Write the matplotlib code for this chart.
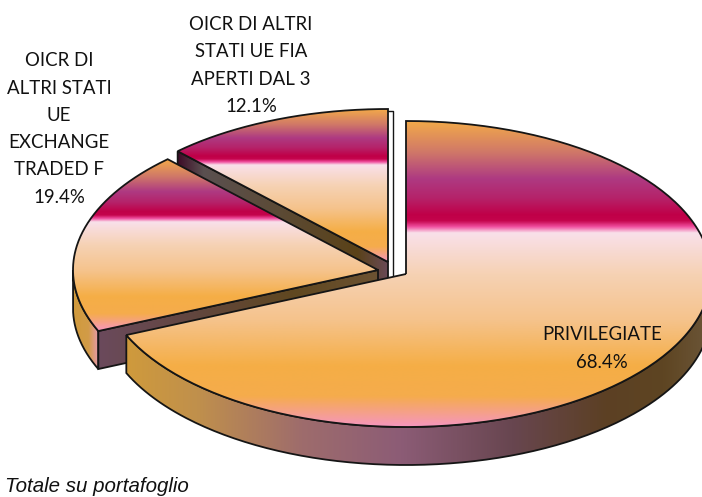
import numpy as np
import matplotlib
matplotlib.use("Agg")
import matplotlib.pyplot as plt
from matplotlib.path import Path
from matplotlib.patches import PathPatch
from matplotlib.colors import LinearSegmentedColormap

# data
categories = ["PRIVILEGIATE", "OICR DI\nALTRI STATI\nUE\nEXCHANGE\nTRADED F", "OICR DI ALTRI\nSTATI UE FIA\nAPERTI DAL 3"]
shares = [68.4, 19.4, 12.1]
footer = "Totale su portafoglio"

# layout (pixels)
W, H = 702, 497
RX, RY, DEPTH = 305, 153, 38
centers = [(406, 274), (378, 270), (388, 262)]
label_pos = [(602, 348.5), (59, 129), (251, 65.5)]

fig = plt.figure(figsize=(W / 100, H / 100), dpi=100)
ax = fig.add_axes([0, 0, 1, 1])
EDGE = "#151515"
LW = 1.3

top_cmap = LinearSegmentedColormap.from_list("top", [
    (0.00, "#F2A94A"), (0.10, "#D07868"), (0.187, "#AE3A82"), (0.25, "#B5236A"),
    (0.305, "#C00048"), (0.325, "#C4044C"), (0.345, "#F050A0"), (0.365, "#F9E0EA"),
    (0.50, "#F6D2B4"), (0.65, "#F5C38C"), (0.80, "#F5AE46"), (0.90, "#F5AC4C"), (1.00, "#F596BE")])
main_wall = LinearSegmentedColormap.from_list("mw", [
    (0.0, "#CF9A3C"), (0.12, "#C0904C"), (0.30, "#9E6C6C"), (0.47, "#8C5C76"),
    (0.66, "#684650"), (0.82, "#5C4024"), (0.92, "#5E4522"), (1.0, "#6C5638")])
side_wall = LinearSegmentedColormap.from_list("sw", [
    (0.0, "#D09A3C"), (0.6, "#D29C48"), (1.0, "#E89AB0")])
cut2_wall = LinearSegmentedColormap.from_list("c2", [
    (0.0, "#6B4A5C"), (0.35, "#62463E"), (0.7, "#604820"), (1.0, "#6C5232")])
cut3_wall = LinearSegmentedColormap.from_list("c3", [
    (0.0, "#3E0C28"), (0.12, "#5A5050"), (0.5, "#5C4A34"), (0.85, "#5A4218"), (1.0, "#6A4A58")])


def pt(c, th):
    return c[0] + RX * np.sin(th), c[1] - RY * np.cos(th)


def arc(c, a, b, n=200):
    t = np.linspace(a, b, n)
    return np.column_stack(pt(c, t))


def fill(verts, cmap, vertical, z):
    verts = np.asarray(verts)
    p = PathPatch(Path(np.vstack([verts, verts[:1]])), fc="none", ec=EDGE, lw=LW, zorder=z + 0.1, joinstyle="miter")
    ax.add_patch(p)
    x0, x1, y0, y1 = verts[:, 0].min(), verts[:, 0].max(), verts[:, 1].min(), verts[:, 1].max()
    g = np.linspace(0, 1, 512)
    img = g[:, None] if vertical else g[None, :]
    im = ax.imshow(img, cmap=cmap, extent=[x0, x1, y1, y0], aspect="auto", zorder=z, interpolation="bilinear", origin="upper")
    im.set_clip_path(p)


def wall(c, a, b, cmap, z):
    top = arc(c, a, b)
    fill(np.vstack([top, (top + [0, DEPTH])[::-1]]), cmap, False, z)


total = sum(shares)
edges = 2 * np.pi * np.concatenate([[0], np.cumsum(shares)]) / total
edges[-1] = 2 * np.pi


def top_face(i):
    c = centers[i]
    return np.vstack([[c], arc(c, edges[i], edges[i + 1])])


def cut_wall(c, th, cmap, z):
    a = np.array(pt(c, th))
    b = np.array(c, float)
    fill([a, b, b + [0, DEPTH], a + [0, DEPTH]], cmap, False, z)


# back slice (third share)
cut_wall(centers[2], edges[2], cut3_wall, 1)
fill(top_face(2), top_cmap, True, 2)
sx = centers[2][0] + 5
ax.plot([sx - 5, sx, sx], [centers[2][1] - RY + 2, centers[2][1] - RY + 2, centers[2][1] + 20], color=EDGE, lw=1.0, zorder=2.5)

# middle slice (second share)
wall(centers[1], edges[1], 1.5 * np.pi, side_wall, 3)
cut_wall(centers[1], edges[1], cut2_wall, 4)
fill(top_face(1), top_cmap, True, 5)

# front slice (first share)
wall(centers[0], np.pi / 2, edges[1], main_wall, 6)
fill(top_face(0), top_cmap, True, 7)

# labels
font = ["Lato", "DejaVu Sans"]
for i, (cat, share) in enumerate(zip(categories, shares)):
    ax.text(label_pos[i][0], label_pos[i][1], f"{cat}\n{share:.1f}%", ha="center", va="center",
            fontsize=13.4, family=font, color="#111111", linespacing=1.73, zorder=10)
ax.text(5, 492, footer, ha="left", va="baseline", fontsize=14.8, style="italic",
        family=["Liberation Sans"], color="#111111", zorder=10)

ax.set_xlim(0, W)
ax.set_ylim(H, 0)
ax.axis("off")
fig.savefig("out.png", dpi=100, facecolor="white")
